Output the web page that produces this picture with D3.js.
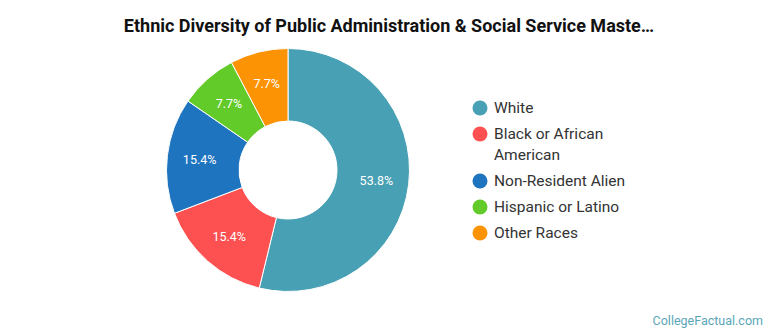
<!DOCTYPE html>
<html>
<head>
<meta charset="utf-8">
<script src="https://d3js.org/d3.v7.min.js"></script>
<style>
body { margin: 0; background: #fff; }
svg { font-family: Roboto, "Noto Sans", sans-serif; }
</style>
</head>
<body>
<svg id="chart" width="770" height="335"></svg>
<script>
var categories = ["White", "Black or African American", "Non-Resident Alien", "Hispanic or Latino", "Other Races"];
var legendLines = [["White"], ["Black or African", "American"], ["Non-Resident Alien"], ["Hispanic or Latino"], ["Other Races"]];
var values = [53.8, 15.4, 15.4, 7.7, 7.7];
var colors = ["#48a0b4", "#fd5151", "#1f74bf", "#62cb2a", "#fc9305"];

var svg = d3.select("#chart");
var cx = 288, cy = 170, outerR = 121.5, innerR = 49;

svg.append("text")
  .attr("x", 389).attr("y", 32)
  .attr("text-anchor", "middle")
  .style("font-size", "18px").style("font-weight", "bold").style("fill", "#111")
  .text("Ethnic Diversity of Public Administration & Social Service Maste…");

var pie = d3.pie().sort(null).value(function(d) { return d; });
var arc = d3.arc().innerRadius(innerR).outerRadius(outerR);
var labelArc = d3.arc().innerRadius(89).outerRadius(89);

var g = svg.append("g").attr("transform", "translate(" + cx + "," + cy + ")");
var arcs = pie(values);

g.selectAll("path").data(arcs).enter()
  .append("path")
  .attr("d", arc)
  .attr("fill", function(d, i) { return colors[i]; })
  .attr("stroke", "#fff")
  .attr("stroke-width", 1);

g.selectAll("text").data(arcs).enter()
  .append("text")
  .attr("transform", function(d) { return "translate(" + labelArc.centroid(d) + ")"; })
  .attr("text-anchor", "middle")
  .attr("dy", "0.35em")
  .style("font-size", "12.5px").style("fill", "#fff")
  .text(function(d) { return d3.format(".1f")(d.data) + "%"; });

// legend
var legend = svg.append("g");
var y = 108;
legendLines.forEach(function(lines, i) {
  legend.append("circle")
    .attr("cx", 480).attr("cy", y).attr("r", 7.5)
    .attr("fill", colors[i]);
  lines.forEach(function(line, j) {
    legend.append("text")
      .attr("x", 494).attr("y", y + j * 21)
      .attr("dy", "0.35em")
      .style("font-size", "15.5px").style("fill", "#333")
      .text(line);
  });
  y += 26 + (lines.length - 1) * 21;
});

svg.append("text")
  .attr("x", 763).attr("y", 325)
  .attr("text-anchor", "end")
  .style("font-size", "12.5px").style("fill", "#5aa6b8")
  .text("CollegeFactual.com");
</script>
</body>
</html>
